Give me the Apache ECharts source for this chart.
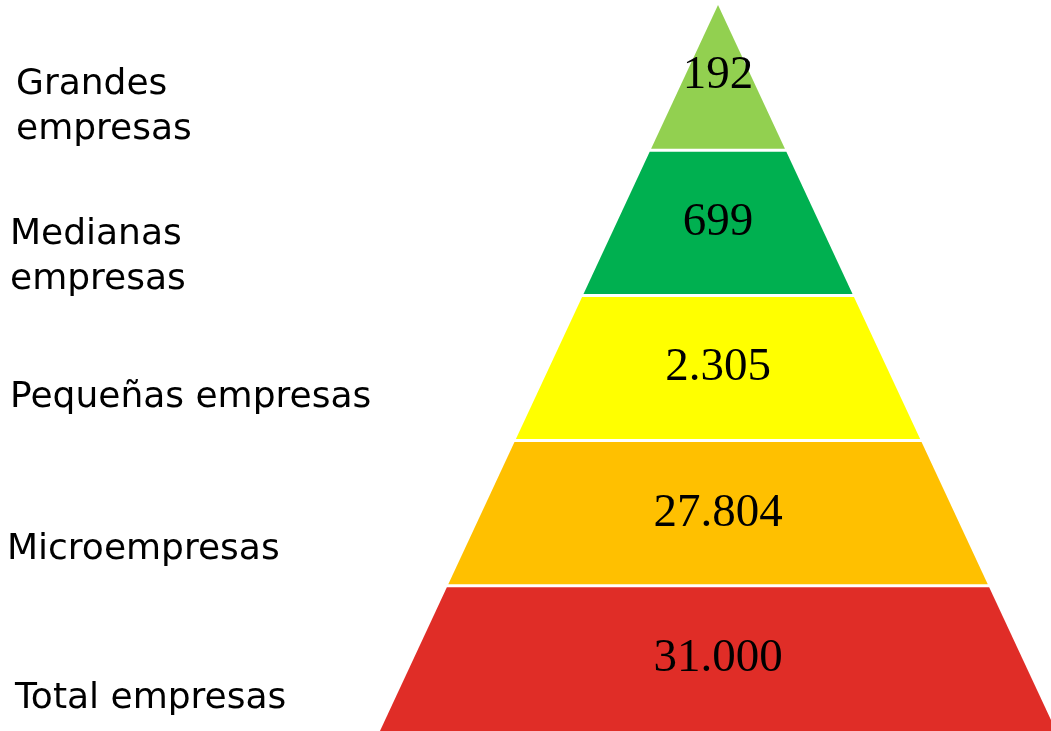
<!DOCTYPE html>
<html><head><meta charset="utf-8">
<script src="https://cdn.jsdelivr.net/npm/echarts@6/dist/echarts.min.js"></script>
<style>html,body{margin:0;padding:0;background:#fff}#c{width:1051px;height:731px}</style>
</head><body><div id="c"></div>
<script>
// Data (bottom level first)
const categories = ['Total empresas', 'Microempresas', 'Pequeñas empresas', 'Medianas\nempresas', 'Grandes\nempresas'];
const values = [31000, 27804, 2305, 699, 192];

// Styles / layout (pixel offsets of the left-hand labels)
const colors = ['#E02D27', '#FFC000', '#FFFF00', '#00B050', '#92D050'];
const labelX = [15, 7, 10, 10, 16];
const labelDy = [40, 36, 30, 34, 30];

function fmt(v) { return String(v).replace(/\B(?=(\d{3})+(?!\d))/g, '.'); }

const chart = echarts.init(document.getElementById('c'));
const levels = categories.length;
chart.setOption({
  animation: false,
  grid: { left: 0, right: 0, top: 5, bottom: 0 },
  xAxis: { type: 'value', min: -2.124, max: 0.985, show: false },
  yAxis: { type: 'value', min: 0, max: levels, show: false },
  series: [{
    type: 'custom',
    data: values.map((v, i) => [i, v]),
    renderItem: function (params, api) {
      const i = api.value(0);
      const v = api.value(1);
      const g = 0.0105;
      const y0 = i + (i > 0 ? g : 0), y1 = i + 1 - (i < levels - 1 ? g : 0);
      const hw = y => (levels - y) / levels;
      const pts = [[-hw(y0), y0], [hw(y0), y0], [hw(y1), y1], [-hw(y1), y1]].map(p => api.coord(p));
      const c = api.coord([0, i + 0.5]);
      return {
        type: 'group', children: [
          { type: 'polygon', shape: { points: pts }, style: { fill: colors[i] } },
          { type: 'text', x: c[0], y: c[1] - (i === levels - 1 ? 2 : 0), style: { text: fmt(v), font: '47px "Liberation Serif"', fill: '#000', align: 'center', verticalAlign: 'middle' } },
          { type: 'text', x: labelX[i], y: c[1] + labelDy[i], style: { text: categories[i], font: '36px "DejaVu Sans"', fill: '#000', align: 'left', verticalAlign: 'middle', lineHeight: 45 } }
        ]
      };
    }
  }]
});
</script></body></html>
